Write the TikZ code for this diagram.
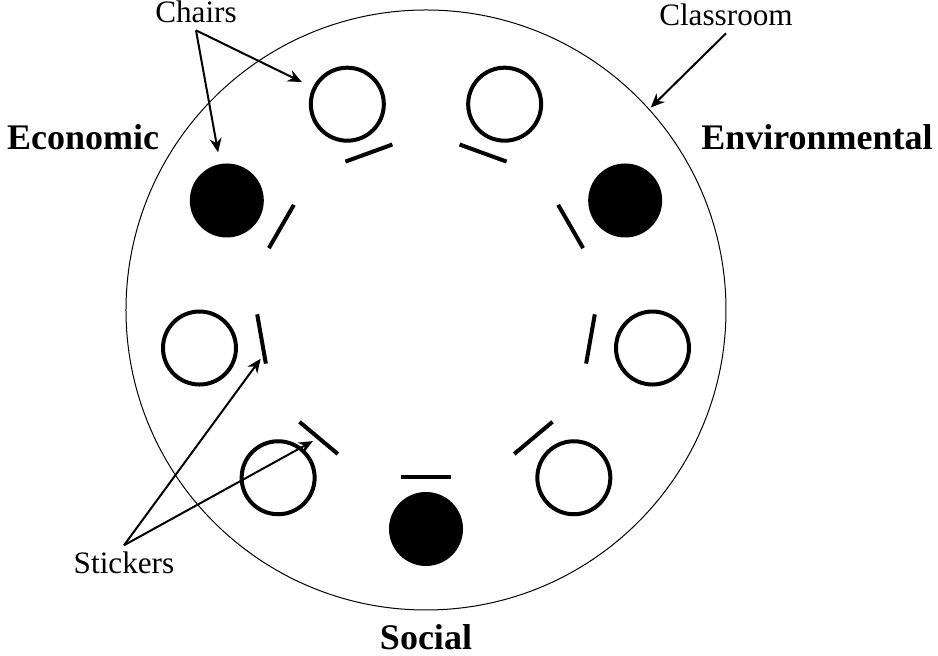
\documentclass[tikz,border=0pt]{standalone}
\usepackage{fontspec}
\setmainfont{Liberation Serif}
\usetikzlibrary{arrows.meta,calc}

\def\stickrad{167}

\begin{document}
\begin{tikzpicture}[x=0.5pt,y=0.5pt,>={Stealth[length=7pt,width=6pt]}]
\tikzstyle{every node}=[font=\fontsize{15.6}{18}\selectfont]
\tikzstyle{chair}=[circle,draw=black,line width=2pt,inner sep=0pt]
\tikzstyle{empty chair}=[chair,minimum size=36.5pt]
\tikzstyle{taken chair}=[chair,fill=black,minimum size=35pt]
\tikzstyle{sticker}=[rectangle,fill=black,minimum width=25pt,minimum height=2pt,inner sep=0pt]
\tikzstyle{side}=[font=\fontsize{18}{21}\selectfont\bfseries,anchor=base]
\tikzstyle{annot}=[anchor=base]
\tikzstyle{pointer}=[->,line width=1pt,shorten >=1pt]

\useasboundingbox (-426,-346) rectangle (512,310);

% Draw the classroom
\node[circle,draw,line width=0.5pt,minimum size=300pt,inner sep=0pt] (room) at (0,0) {};

% Draw the empty chairs
\foreach \name / \ang in {1/-50,2/-10,4/70,5/110,7/190,8/230}
\node[empty chair] (C-\name) at (\ang:230 and 219) {};

% Draw the taken chairs
\foreach \name / \ang in {0/-90,3/30,6/150}
\node[taken chair] (C-\name) at (\ang:230 and 219) {};

% Draw the stickers in front of every chair
\foreach \name / \ang in {0/-90,1/-50,2/-10,3/30,4/70,5/110,6/150,7/190,8/230}
\node[sticker,rotate=\ang+90] (S-\name) at (\ang:\stickrad) {};

% Write the side labels
\node[side] (econ) at (-343,160) {Economic};
\node[side] (envi) at (391,160) {Environmental};
\node[side] (soc) at (0,-340) {Social};

% Write the annotations
\node[annot] (chairs) at (-230,287) {Chairs};
\node[annot] (classroom) at (300,284) {Classroom};
\node[annot] (stickers) at (-302,-264) {Stickers};

% Point the annotations at the things
\draw[pointer,shorten >=6pt] (chairs.south) -- (C-5);
\draw[pointer,shorten >=6pt] (chairs.south) -- (C-6);
\draw[pointer] (classroom.south) -- (room.42);
\draw[pointer,shorten >=3pt] (stickers.north) -- ($(S-7.center)!0.6!(S-7.east)$);
\draw[pointer,shorten >=2pt] (stickers.north) -- (S-8);

\end{tikzpicture}
\end{document}
